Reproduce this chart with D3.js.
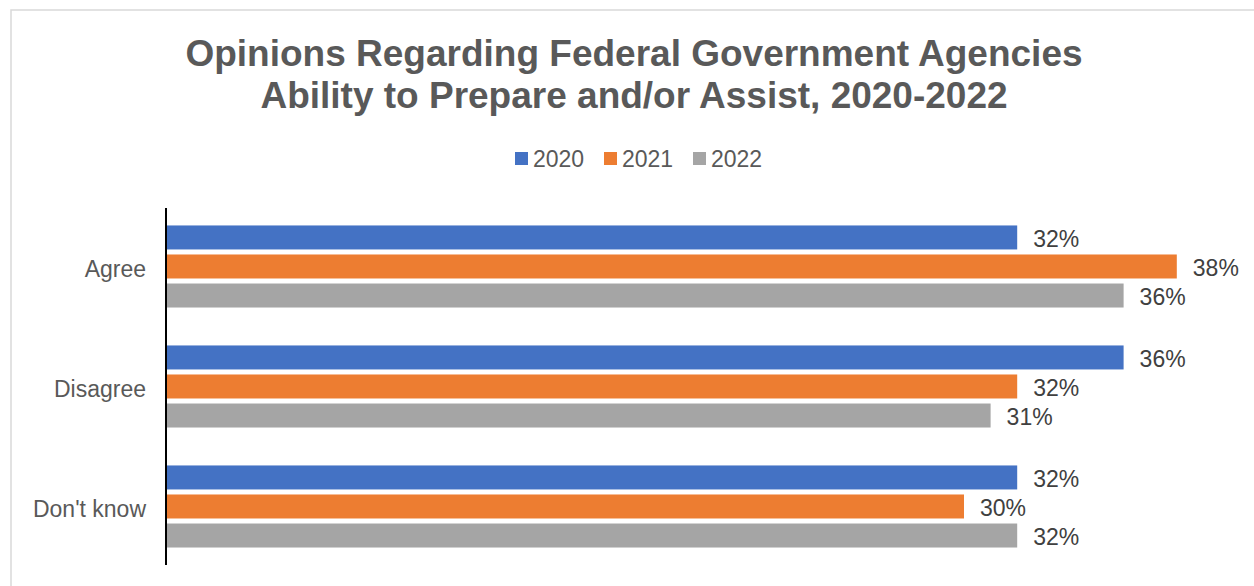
<!DOCTYPE html>
<html>
<head>
<meta charset="utf-8">
<script src="https://cdn.jsdelivr.net/npm/d3@7"></script>
<style>
  html, body { margin: 0; padding: 0; background: #fff; }
  svg { display: block; font-family: "Liberation Sans", Arial, sans-serif; }
</style>
</head>
<body>
<svg id="chart" width="1254" height="586"></svg>
<script>
// Survey responses by year
const categories = ["Agree", "Disagree", "Don't know"];
const years = ["2020", "2021", "2022"];
const values2020 = [32, 36, 32];
const values2021 = [38, 32, 30];
const values2022 = [36, 31, 32];
const colors = ["#4472C4", "#ED7D31", "#A5A5A5"];
const titleLines = [
  "Opinions Regarding Federal Government Agencies",
  "Ability to Prepare and/or Assist, 2020-2022"
];

const seriesValues = [values2020, values2021, values2022];
const rows = categories.map((c, i) => ({
  category: c,
  bars: years.map((y, j) => ({ year: y, value: seriesValues[j][i], color: colors[j] }))
}));

const svg = d3.select("#chart");

// chart frame
svg.append("rect")
  .attr("x", 11).attr("y", 10)
  .attr("width", 1260).attr("height", 600)
  .attr("fill", "#fff")
  .attr("stroke", "#d9d9d9")
  .attr("stroke-width", 1.5);

// title
svg.append("text")
  .attr("text-anchor", "middle")
  .attr("fill", "#595959")
  .attr("font-weight", "bold")
  .attr("font-size", 37)
  .selectAll("tspan")
  .data(titleLines)
  .join("tspan")
  .attr("x", 634)
  .attr("y", (d, i) => 66 + i * 42)
  .text(d => d);

// legend
const legendX = [515, 604, 693];
const legend = svg.append("g").selectAll("g")
  .data(years)
  .join("g")
  .attr("transform", (d, i) => `translate(${legendX[i]},152)`);
legend.append("rect")
  .attr("width", 13).attr("height", 13)
  .attr("fill", (d, i) => colors[i]);
legend.append("text")
  .attr("x", 18).attr("y", 6.5)
  .attr("dy", "0.36em")
  .attr("font-size", 23)
  .attr("fill", "#595959")
  .text(d => d);

// scales
const axisX = 166;
const x = d3.scaleLinear().domain([0, 40]).range([axisX, axisX + 40 * 26.6]);
const y = d3.scaleBand().domain(categories).range([208, 568])
  .paddingInner(0.25).paddingOuter(0.125);
const ySub = d3.scaleBand().domain(years).range([0, y.bandwidth()]).padding(0.1);

// bars
const groups = svg.append("g").selectAll("g")
  .data(rows)
  .join("g")
  .attr("transform", d => `translate(0,${y(d.category)})`);

groups.selectAll("rect")
  .data(d => d.bars)
  .join("rect")
  .attr("x", x(0))
  .attr("y", d => ySub(d.year) - ySub.step() * ySub.padding() / 2 + 1)
  .attr("height", 24)
  .attr("width", d => x(d.value) - x(0))
  .attr("fill", d => d.color);

groups.selectAll("text")
  .data(d => d.bars)
  .join("text")
  .attr("x", d => x(d.value) + 16)
  .attr("y", d => ySub(d.year) - ySub.step() * ySub.padding() / 2 + 14)
  .attr("dy", "0.36em")
  .attr("font-size", 23)
  .attr("fill", "#404040")
  .text(d => d.value + "%");

// category axis
const yAxis = d3.axisLeft(y).tickSize(0).tickPadding(20);
const axisG = svg.append("g")
  .attr("transform", `translate(${axisX},0)`)
  .call(yAxis);
axisG.select(".domain").attr("stroke", "#000").attr("stroke-width", 2)
  .attr("d", "M0,208V565");
axisG.selectAll(".tick text")
  .attr("dy", "0.4em")
  .attr("font-size", 23)
  .attr("font-family", "Liberation Sans, Arial, sans-serif")
  .attr("fill", "#595959");
</script>
</body>
</html>
